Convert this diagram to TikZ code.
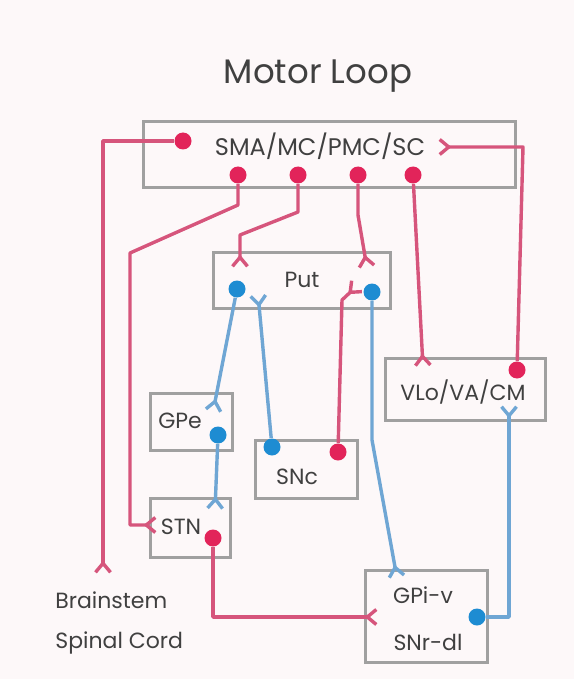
\documentclass[tikz,border=0pt]{standalone}
\usepackage{fontspec}
\setmainfont{Poppins}
\usetikzlibrary{arrows.meta,positioning}
\definecolor{loopred}{HTML}{E2245A}
\definecolor{linered}{HTML}{D6557C}
\definecolor{loopblue}{HTML}{1E8CD2}
\definecolor{lineblue}{HTML}{6FA6D4}
\definecolor{boxgray}{HTML}{A0A0A0}
\definecolor{txtgray}{HTML}{404040}
\definecolor{paper}{HTML}{FDF8F9}

\begin{document}
\begin{tikzpicture}[x=0.5pt,y=-0.5pt,
area box/.style={draw=boxgray,line width=1.5pt,inner sep=0pt},
area label/.style={text=txtgray,font=\fontsize{11}{13}\selectfont,inner sep=0pt},
title label/.style={text=txtgray,font=\fontsize{17}{20}\selectfont,inner sep=0pt},
red dot/.style={circle,fill=loopred,inner sep=0pt,minimum size=8.5pt},
blue dot/.style={circle,fill=loopblue,inner sep=0pt,minimum size=8.5pt},
fork/.style={-{Straight Barb[reversed,length=4.5pt,width=7.5pt]}},
red path/.style={draw=linered,line width=1.7pt,line join=round},
blue path/.style={draw=lineblue,line width=1.7pt,line join=round}]
\fill[paper] (0,0) rectangle (574,679);
\useasboundingbox (0,0) rectangle (574,679);
\node[area box,minimum width=186pt,minimum height=33pt] (sma) at (329,155) {};
\node[area box,minimum width=88.5pt,minimum height=28pt] (put) at (301.5,280) {};
\node[area box,minimum width=41pt,minimum height=28.5pt] (gpe) at (191,421.5) {};
\node[area box,minimum width=51pt,minimum height=29pt] (snc) at (306,469) {};
\node[area box,minimum width=40pt,minimum height=29.5pt] (stn) at (190,527.5) {};
\node[area box,minimum width=80pt,minimum height=31pt] (vl) at (465,389) {};
\node[area box,minimum width=61pt,minimum height=46pt] (gpi) at (426,616) {};
\node[title label] (title) at (318,76) {Motor Loop};
\node[area label,font=\fontsize{12}{14}\selectfont] (smalbl) at (320,146) {SMA/MC/PMC/SC};
\node[area label] (putlbl) at (302,280) {Put};
\node[area label] (gpelbl) at (180,421) {GPe};
\node[area label] (snclbl) at (297,477) {SNc};
\node[area label] (stnlbl) at (181,527) {STN};
\node[area label] (vllbl) at (463,392) {VLo/VA/CM};
\node[area label] (gpilbl) at (423,595) {GPi-v};
\node[area label] (snrlbl) at (428,642) {SNr-dl};
\node[area label,anchor=west] (brainlbl) at (55,600) {Brainstem};
\node[area label,anchor=west] (cordlbl) at (55,643) {Spinal Cord};
\node[red dot] (smaout) at (183,141) {};
\node[red dot] (smastn) at (238,175) {};
\node[red dot] (smaputa) at (298,175) {};
\node[red dot] (smaputb) at (358,175) {};
\node[red dot] (smavl) at (413,175) {};
\node[red dot] (vlsma) at (517,370) {};
\node[red dot] (sncput) at (338,452) {};
\node[red dot] (stngpi) at (213,538) {};
\node[blue dot] (putgpe) at (237,289) {};
\node[blue dot] (putgpi) at (372,292) {};
\node[blue dot] (gpestn) at (218,435) {};
\node[blue dot] (sncputb) at (272,447) {};
\node[blue dot] (gpivl) at (477,617) {};
\coordinate (brainstem) at (103,574);
\coordinate (stnin) at (157,525);
\coordinate (putina) at (240,268);
\coordinate (putinb) at (367,268);
\coordinate (putinc) at (358,285);
\coordinate (putind) at (258,294);
\coordinate (vlin) at (423,367);
\coordinate (vlinb) at (509,405);
\coordinate (smain) at (438,147);
\coordinate (gpein) at (213,412);
\coordinate (stninb) at (215,510);
\coordinate (gpiin) at (378,617);
\coordinate (gpiinb) at (397,578);
\draw[red path,fork] (smaout) -- (103,141) -- (brainstem);
\draw[red path,fork] (smastn) -- (238,205) -- (130,253) -- (130,525) -- (stnin);
\draw[red path,fork] (smaputa) -- (298,212) -- (240,235) -- (putina);
\draw[red path,fork] (smaputb) -- (358,215) -- (putinb);
\draw[red path,fork] (smavl) -- (vlin);
\draw[red path,fork] (vlsma) -- (523,147) -- (smain);
\draw[red path,fork] (sncput) -- (342,300) -- (putinc);
\draw[red path,fork] (stngpi) -- (213,617) -- (gpiin);
\draw[blue path,fork] (putgpe) -- (gpein);
\draw[blue path,fork] (putgpi) -- (372,440) -- (gpiinb);
\draw[blue path,fork] (sncputb) -- (putind);
\draw[blue path,fork] (gpestn) -- (stninb);
\draw[blue path,fork] (gpivl) -- (509,617) -- (vlinb);
\end{tikzpicture}
\end{document}
